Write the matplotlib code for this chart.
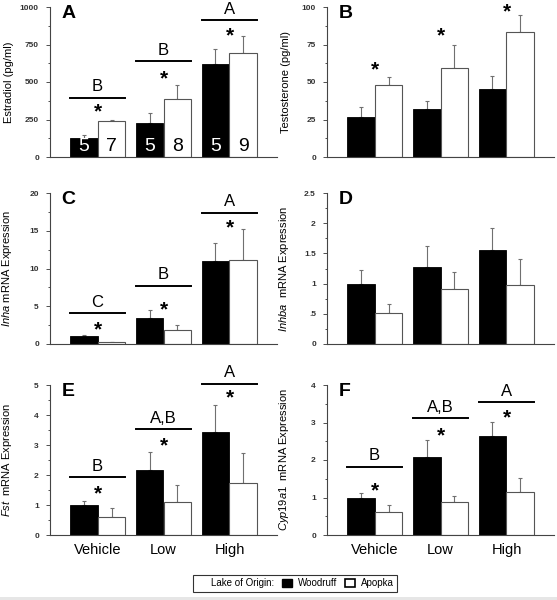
import numpy as np
import matplotlib
matplotlib.use('Agg')
import matplotlib.pyplot as plt
from matplotlib.patches import Patch, Rectangle
from matplotlib.ticker import MultipleLocator, FuncFormatter

plt.rcParams['font.family'] = ['Liberation Sans', 'DejaVu Sans']
plt.rcParams['mathtext.fontset'] = 'custom'
plt.rcParams['mathtext.it'] = 'Liberation Sans:italic'
plt.rcParams['mathtext.rm'] = 'Liberation Sans'

groups = ['Vehicle', 'Low', 'High']

# A - estradiol
e2_wood = [125, 227, 621]
e2_wood_se = [20, 65, 100]
e2_apo = [243, 387, 692]
e2_apo_se = [7, 92, 114]
e2_n_wood = [5, 5, 5]
e2_n_apo = [7, 8, 9]
e2_letters = ['B', 'B', 'A']
e2_line = [395, 637, 913]
e2_star = [327, 547, 833]

# B - testosterone
t_wood = [26.9, 31.9, 45.2]
t_wood_se = [6.7, 5.3, 8.9]
t_apo = [48.1, 59.6, 83.3]
t_apo_se = [5.1, 15.2, 11.6]
t_star = [60.3, 82.8, 99.3]

# C - Inha
inha_wood = [1.1, 3.5, 11.05]
inha_wood_se = [0.15, 1.0, 2.35]
inha_apo = [0.25, 1.85, 11.15]
inha_apo_se = [0.05, 0.65, 4.05]
inha_letters = ['C', 'B', 'A']
inha_line = [4.07, 7.7, 17.4]
inha_star = [2.3, 5.0, 15.8]

# D - Inhba
inhba_wood = [1.0, 1.28, 1.55]
inhba_wood_se = [0.22, 0.34, 0.37]
inhba_apo = [0.51, 0.91, 0.97]
inhba_apo_se = [0.16, 0.28, 0.43]

# E - Fst
fst_wood = [1.0, 2.17, 3.45]
fst_wood_se = [0.15, 0.6, 0.9]
fst_apo = [0.6, 1.1, 1.72]
fst_apo_se = [0.3, 0.58, 1.0]
fst_letters = ['B', 'A,B', 'A']
fst_line = [1.93, 3.52, 5.05]
fst_star = [1.47, 3.1, 4.67]

# F - Cyp19a1
cyp_wood = [1.0, 2.07, 2.63]
cyp_wood_se = [0.12, 0.46, 0.39]
cyp_apo = [0.62, 0.88, 1.16]
cyp_apo_se = [0.18, 0.16, 0.35]
cyp_letters = ['B', 'A,B', 'A']
cyp_line = [1.82, 3.11, 3.54]
cyp_star = [1.27, 2.74, 3.21]

W = 0.424
x = np.arange(len(groups))


def no_lead_zero(v, pos):
    s = f"{v:g}"
    if s.startswith('0.'):
        s = s[1:]
    return s


def draw_panel(ax, wood, wood_se, apo, apo_se, ymax, step, ylabel, tag,
               letters=None, line_y=None, star_y=None, strip_zero=False):
    ax.bar(x - W / 2, wood, W, color='black', edgecolor='black', lw=0.6, zorder=2)
    ax.bar(x + W / 2, apo, W, color='white', edgecolor='#555555', lw=0.8, zorder=2)
    zeros = np.zeros(len(x))
    ax.errorbar(x - W / 2, wood, yerr=[zeros, wood_se], fmt='none', ecolor='#707070',
                elinewidth=0.8, capsize=1.5, capthick=0.8, zorder=1)
    ax.errorbar(x + W / 2, apo, yerr=[zeros, apo_se], fmt='none', ecolor='#707070',
                elinewidth=0.8, capsize=1.5, capthick=0.8, zorder=1)

    ax.set_xlim(-0.72, 2.72)
    ax.set_ylim(0, ymax)
    ax.yaxis.set_major_locator(MultipleLocator(step))
    ax.yaxis.set_minor_locator(MultipleLocator(step / 2))
    if strip_zero:
        ax.yaxis.set_major_formatter(FuncFormatter(no_lead_zero))
    ax.tick_params(axis='y', which='major', labelsize=6, length=3, width=0.6, pad=5, colors='#333333')
    ax.tick_params(axis='y', which='minor', length=1.5, width=0.6, colors='#333333')
    for lab in ax.get_yticklabels():
        lab.set_fontweight('bold')
    ax.set_xticks([])
    for side in ['top', 'right']:
        ax.spines[side].set_visible(False)
    for side in ['left', 'bottom']:
        ax.spines[side].set_color('#444444')
        ax.spines[side].set_linewidth(0.8)

    ax.set_ylabel(ylabel, fontsize=8)
    ax.yaxis.set_label_coords(-0.16, 0.5)
    ax.text(0.05, 0.96, tag, transform=ax.transAxes, fontsize=14, fontweight='bold',
            ha='left', va='center')

    if letters is not None:
        for xi, lt, ly in zip(x, letters, line_y):
            ax.plot([xi - W, xi + W], [ly, ly], color='black', lw=1.4, clip_on=False)
            ax.annotate(lt, (xi, ly), xytext=(0, 2.5), textcoords='offset points',
                        ha='center', va='bottom', fontsize=12, annotation_clip=False)
    if star_y is not None:
        for xi, sy in zip(x, star_y):
            ax.annotate('*', (xi, sy), xytext=(0, -2.5), textcoords='offset points',
                        ha='center', va='center', fontsize=15, fontweight='bold',
                        annotation_clip=False)


fig = plt.figure(figsize=(5.57, 6.0), dpi=100)

col_left = [50 / 557, 327 / 557]
ax_w = 227 / 557
rows = [(7, 157), (193, 344), (385, 535)]


def make_ax(col, row):
    top, bot = rows[row]
    return fig.add_axes([col_left[col], 1 - bot / 600, ax_w, (bot - top) / 600])


axA = make_ax(0, 0)
draw_panel(axA, e2_wood, e2_wood_se, e2_apo, e2_apo_se, 1000, 250, 'Estradiol (pg/ml)', 'A',
           e2_letters, e2_line, e2_star)
for xi, nw, na in zip(x, e2_n_wood, e2_n_apo):
    axA.text(xi - W / 2, 72, str(nw), ha='center', va='center', fontsize=14, color='white', zorder=3)
    axA.text(xi + W / 2, 72, str(na), ha='center', va='center', fontsize=14, color='black', zorder=3)

axB = make_ax(1, 0)
draw_panel(axB, t_wood, t_wood_se, t_apo, t_apo_se, 100, 25, 'Testosterone (pg/ml)', 'B',
           star_y=t_star)

axC = make_ax(0, 1)
draw_panel(axC, inha_wood, inha_wood_se, inha_apo, inha_apo_se, 20, 5,
           r'$\mathit{Inha}$ mRNA Expression', 'C', inha_letters, inha_line, inha_star)

axD = make_ax(1, 1)
draw_panel(axD, inhba_wood, inhba_wood_se, inhba_apo, inhba_apo_se, 2.5, 0.5,
           r'$\mathit{Inhba}$  mRNA Expression', 'D', strip_zero=True)

axE = make_ax(0, 2)
draw_panel(axE, fst_wood, fst_wood_se, fst_apo, fst_apo_se, 5, 1,
           r'$\mathit{Fst}$  mRNA Expression', 'E', fst_letters, fst_line, fst_star)

axF = make_ax(1, 2)
draw_panel(axF, cyp_wood, cyp_wood_se, cyp_apo, cyp_apo_se, 4, 1,
           r'$\mathit{Cyp19a1}$  mRNA Expression', 'F', cyp_letters, cyp_line, cyp_star)

for ax in (axE, axF):
    ax.set_xticks(x)
    ax.set_xticklabels(groups, fontsize=10.5)
    ax.tick_params(axis='x', length=0, pad=6)

handles = [Patch(facecolor='none', edgecolor='none'),
           Patch(facecolor='black', edgecolor='black'),
           Patch(facecolor='white', edgecolor='black', lw=1.2)]
labels = ['Lake of Origin:', 'Woodruff', 'Apopka']
leg = fig.legend(handles, labels, loc='center', bbox_to_anchor=(0.529, 0.028), ncol=3,
                 fontsize=7, frameon=True, fancybox=False, edgecolor='black',
                 handlelength=1.0, handleheight=1.0, handletextpad=0.6, columnspacing=0.8,
                 borderpad=0.35)
leg.get_frame().set_linewidth(0.8)

fig.patches.append(Rectangle((0, 0), 1, 0.005, transform=fig.transFigure,
                             facecolor='#e6e6e6', edgecolor='none'))

fig.savefig('out.png', dpi=100)
